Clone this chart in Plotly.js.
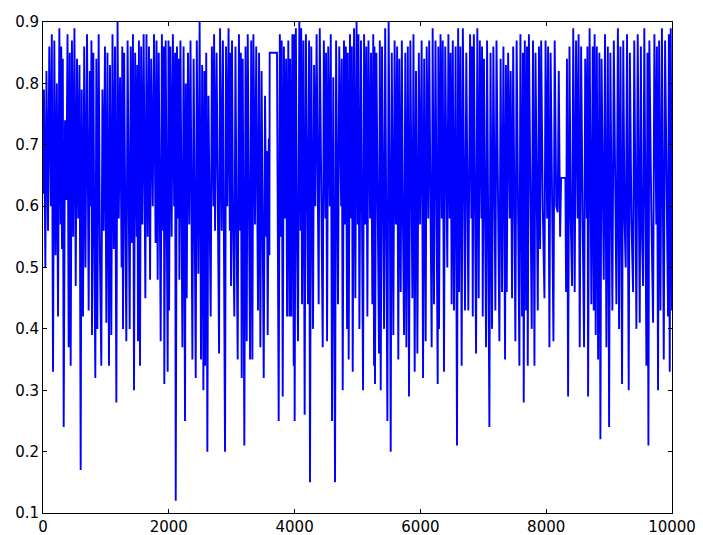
<!DOCTYPE html>
<html>
<head>
<meta charset="utf-8">
<script src="https://cdn.plot.ly/plotly-3.0.1.min.js"></script>
<style>
  html, body { margin: 0; padding: 0; background: #fff; }
  #chart { width: 703px; height: 535px; }
</style>
</head>
<body>
<div id="chart"></div>
<script>
// values, peak / trough pairs
var steps = [
  0, 15, 37, 55, 80, 100, 125, 140, 159, 180, 200, 220, 239, 260, 280, 290, 302, 315, 329, 350,
  370, 390, 408, 425, 440, 460, 480, 500, 520, 540, 560, 580, 599, 615, 636, 655, 675, 700, 726, 745,
  760, 770, 779, 800, 815, 832, 848, 864, 885, 905, 927, 945, 965, 985, 1007, 1025, 1049, 1065, 1086, 1105,
  1125, 1145, 1166, 1185, 1205, 1225, 1250, 1260, 1272, 1290, 1310, 1325, 1345, 1360, 1378, 1395, 1415, 1430, 1447, 1465,
  1490, 1500, 1510, 1525, 1542, 1560, 1580, 1600, 1627,
  1645, 1665, 1685, 1702, 1720, 1745, 1765, 1790, 1805, 1823, 1840, 1871, 1890, 1910, 1920, 1929, 1950, 1965, 1982, 1995,
  2004, 2025, 2045, 2065, 2085, 2100, 2110, 2130, 2150, 2160, 2168, 2185, 2200, 2216, 2235, 2258, 2270, 2285, 2305, 2325,
  2345, 2360, 2375, 2395, 2410, 2428, 2445, 2470, 2490, 2512, 2530, 2550, 2565, 2576, 2595, 2613, 2630, 2650, 2666, 2685,
  2710, 2720, 2735, 2760, 2775, 2799, 2815, 2830, 2841, 2860, 2875, 2894, 2910, 2930, 2950, 2970, 2980, 2989, 3005, 3020,
  3042, 3060, 3075, 3095, 3115, 3135, 3145, 3159, 3175, 3190, 3201, 3220, 3239, 3255, 3275, 3292, 3310, 3329,
  3345, 3370, 3390, 3418, 3435, 3456, 3475, 3490, 3509, 3530, 3550, 3560, 3572, 3590, 3599, 3604, 3720, 3747, 3765, 3785,
  3795, 3811, 3830, 3850, 3865, 3880, 3900, 3917, 3930, 3948, 3965, 3986, 3993, 4001, 4020, 4035, 4054, 4075, 4095, 4105,
  4118, 4140, 4160, 4180, 4195, 4213, 4230, 4245, 4265, 4293, 4310, 4330, 4350, 4365, 4383, 4400, 4425, 4447, 4465, 4490,
  4500, 4516, 4535, 4560, 4575, 4595, 4615, 4630, 4643, 4660, 4675, 4690, 4710, 4740, 4750, 4765, 4785, 4805, 4815, 4834,
  4845, 4860, 4880, 4900, 4910, 4924, 4945, 4966, 4985, 5005, 5015, 5030, 5055, 5070, 5088,
  5105, 5125, 5140, 5157, 5175, 5200, 5215, 5236, 5250, 5263, 5270, 5278, 5300, 5320, 5342, 5355, 5369, 5390, 5405, 5422,
  5440, 5460, 5475, 5495, 5515, 5528, 5545, 5570, 5590, 5610, 5630, 5649, 5665, 5687, 5705, 5720, 5740, 5760, 5777, 5800,
  5819, 5840, 5855, 5872, 5890, 5909, 5930, 5952, 5975, 5995, 6020, 6042, 6060, 6084, 6100, 6125, 6140, 6160, 6179, 6195,
  6216, 6240, 6260, 6275, 6285, 6296, 6320, 6340, 6355, 6375, 6395, 6428, 6445, 6465, 6480, 6497, 6515, 6534, 6560, 6582,
  6600, 6614, 6635, 6656, 6675, 6690, 6709, 6730, 6762,
  6790, 6810, 6820, 6832, 6850, 6870, 6885, 6905, 6927, 6945, 6970, 6980, 6991, 7010, 7030, 7044, 7060, 7080, 7097, 7115,
  7139, 7160, 7180, 7192, 7210, 7235, 7256, 7275, 7298, 7320, 7346, 7360, 7373, 7395, 7420, 7435, 7457, 7475, 7495, 7510,
  7530, 7555, 7574, 7590, 7616, 7630, 7643, 7660, 7680, 7695, 7707, 7725, 7750, 7770, 7790, 7813, 7830, 7850, 7866, 7885,
  7903, 7920, 7945, 7972, 7990, 8015, 8030, 8051, 8070, 8095, 8115, 8135, 8160, 8183, 8200, 8221, 8237, 8305, 8316, 8330,
  8348, 8370, 8390, 8411, 8430, 8453,
  8475, 8500, 8515, 8533, 8555, 8580, 8602, 8620, 8645, 8655, 8666, 8690, 8718, 8740, 8756, 8770, 8787, 8805, 8825, 8845,
  8862, 8880, 8900, 8915, 8935, 8957, 8980, 9000, 9020, 9035, 9052, 9075, 9095, 9116, 9140, 9158, 9180, 9206, 9225, 9245,
  9264, 9285, 9312, 9330, 9355, 9381, 9400, 9415, 9434, 9455, 9487, 9505, 9520, 9540, 9560, 9593, 9610, 9625, 9640, 9670,
  9699, 9720, 9750, 9760, 9778, 9795, 9816, 9840, 9869, 9890, 9915, 9937, 9950, 9964, 9980, 10000
];

var values = [
  0.62, 0.79, 0.50, 0.82, 0.56, 0.86, 0.60, 0.88, 0.33, 0.87, 0.52, 0.80, 0.42, 0.89, 0.57, 0.86, 0.53, 0.84, 0.24, 0.74,
  0.61, 0.88, 0.37, 0.85, 0.34, 0.87, 0.55, 0.89, 0.47, 0.84, 0.58, 0.83, 0.17, 0.79, 0.42, 0.86, 0.50, 0.88, 0.43, 0.82,
  0.60, 0.87, 0.39, 0.85, 0.55, 0.32, 0.84, 0.40, 0.88, 0.52, 0.34, 0.79, 0.56, 0.86, 0.41, 0.85, 0.34, 0.83, 0.39, 0.88,
  0.53, 0.86, 0.28, 0.90, 0.58, 0.81, 0.50, 0.86, 0.40, 0.85, 0.56, 0.38, 0.87, 0.60, 0.40, 0.86, 0.54, 0.88, 0.30, 0.85,
  0.55, 0.83, 0.38, 0.87, 0.34, 0.86, 0.57, 0.88, 0.45,
  0.88, 0.55, 0.86, 0.48, 0.84, 0.60, 0.88, 0.54, 0.87, 0.48, 0.85, 0.38, 0.88, 0.56, 0.86, 0.31, 0.87, 0.58, 0.33, 0.87,
  0.43, 0.86, 0.55, 0.88, 0.60, 0.85, 0.12, 0.86, 0.58, 0.84, 0.48, 0.87, 0.56, 0.37, 0.86, 0.25, 0.80, 0.45, 0.85, 0.57,
  0.87, 0.60, 0.35, 0.84, 0.55, 0.32, 0.87, 0.49, 0.90, 0.35, 0.83, 0.30, 0.82, 0.34, 0.85, 0.20, 0.78, 0.58, 0.42, 0.86,
  0.60, 0.88, 0.56, 0.85, 0.62, 0.36, 0.89, 0.60, 0.56, 0.87, 0.58, 0.20, 0.86, 0.60, 0.89, 0.56, 0.85, 0.47, 0.87, 0.58,
  0.42, 0.86, 0.60, 0.35, 0.88, 0.56, 0.85, 0.32, 0.84, 0.58, 0.21, 0.86, 0.38, 0.88, 0.55, 0.35, 0.87, 0.35,
  0.88, 0.57, 0.86, 0.43, 0.85, 0.37, 0.82, 0.52, 0.32, 0.78, 0.55, 0.69, 0.39, 0.71, 0.52, 0.85, 0.85, 0.25, 0.88, 0.55,
  0.87, 0.29, 0.86, 0.58, 0.84, 0.42, 0.87, 0.42, 0.84, 0.42, 0.88, 0.34, 0.88, 0.25, 0.89, 0.58, 0.38, 0.90, 0.56, 0.89,
  0.44, 0.87, 0.26, 0.88, 0.58, 0.44, 0.87, 0.15, 0.86, 0.40, 0.83, 0.60, 0.88, 0.57, 0.44, 0.89, 0.55, 0.37, 0.87, 0.58,
  0.85, 0.38, 0.86, 0.60, 0.88, 0.25, 0.81, 0.55, 0.15, 0.87, 0.58, 0.44, 0.86, 0.60, 0.84, 0.30, 0.87, 0.57, 0.86, 0.40,
  0.85, 0.35, 0.88, 0.58, 0.86, 0.33, 0.89, 0.45, 0.90, 0.57, 0.88, 0.40, 0.87, 0.56, 0.30,
  0.88, 0.57, 0.86, 0.42, 0.87, 0.58, 0.85, 0.44, 0.88, 0.34, 0.86, 0.31, 0.85, 0.58, 0.36, 0.87, 0.30, 0.86, 0.60, 0.40,
  0.89, 0.57, 0.25, 0.90, 0.60, 0.20, 0.85, 0.39, 0.87, 0.57, 0.86, 0.35, 0.84, 0.46, 0.87, 0.60, 0.39, 0.85, 0.37, 0.86,
  0.29, 0.87, 0.58, 0.45, 0.88, 0.33, 0.82, 0.36, 0.85, 0.57, 0.87, 0.32, 0.84, 0.38, 0.86, 0.58, 0.87, 0.55, 0.37, 0.89,
  0.44, 0.87, 0.58, 0.31, 0.86, 0.40, 0.88, 0.58, 0.87, 0.33, 0.86, 0.50, 0.88, 0.58, 0.85, 0.44, 0.87, 0.43, 0.86, 0.21,
  0.89, 0.46, 0.86, 0.34, 0.89, 0.60, 0.43, 0.85, 0.43,
  0.88, 0.58, 0.86, 0.42, 0.88, 0.56, 0.36, 0.89, 0.45, 0.87, 0.58, 0.86, 0.42, 0.84, 0.57, 0.37, 0.87, 0.55, 0.24, 0.85,
  0.40, 0.86, 0.58, 0.43, 0.87, 0.55, 0.38, 0.84, 0.46, 0.86, 0.35, 0.83, 0.46, 0.85, 0.58, 0.82, 0.45, 0.86, 0.58, 0.38,
  0.87, 0.56, 0.34, 0.88, 0.42, 0.85, 0.28, 0.87, 0.43, 0.86, 0.34, 0.88, 0.58, 0.40, 0.87, 0.34, 0.85, 0.60, 0.43, 0.86,
  0.53, 0.87, 0.60, 0.45, 0.87, 0.58, 0.86, 0.37, 0.85, 0.60, 0.38, 0.87, 0.60, 0.59, 0.82, 0.55, 0.646, 0.646, 0.46, 0.84,
  0.29, 0.86, 0.58, 0.47, 0.89, 0.46,
  0.87, 0.58, 0.88, 0.37, 0.86, 0.57, 0.37, 0.84, 0.58, 0.86, 0.29, 0.89, 0.44, 0.86, 0.43, 0.88, 0.39, 0.86, 0.35, 0.85,
  0.22, 0.84, 0.58, 0.48, 0.88, 0.37, 0.86, 0.24, 0.85, 0.58, 0.43, 0.87, 0.58, 0.44, 0.89, 0.40, 0.86, 0.31, 0.87, 0.58,
  0.50, 0.88, 0.30, 0.85, 0.58, 0.46, 0.87, 0.58, 0.40, 0.88, 0.41, 0.86, 0.57, 0.47, 0.89, 0.34, 0.85, 0.21, 0.87, 0.60,
  0.41, 0.88, 0.57, 0.86, 0.30, 0.87, 0.43, 0.89, 0.35, 0.87, 0.58, 0.42, 0.88, 0.33, 0.89, 0.43
];

var yTicks = [0.1, 0.2, 0.3, 0.4, 0.5, 0.6, 0.7, 0.8, 0.9];
var yTickText = ['0.1', '0.2', '0.3', '0.4', '0.5', '0.6', '0.7', '0.8', '0.9'];
var xTicks = [0, 2000, 4000, 6000, 8000, 10000];
var xTickText = ['0', '2000', '4000', '6000', '8000', '10000'];

var trace = {
    x: steps,
    y: values,
    mode: 'lines',
    line: {color: '#0000ff', width: 1.9},
    hoverinfo: 'skip'
};

var axisStyle = {
    showgrid: false,
    zeroline: false,
    showline: true,
    linecolor: '#000',
    linewidth: 1,
    mirror: 'ticks',
    ticks: 'inside',
    ticklen: 4,
    tickwidth: 1,
    tickcolor: '#000',
    tickfont: {family: 'DejaVu Sans', size: 15, color: '#000'}
};

var layout = {
    width: 703,
    height: 535,
    margin: {l: 43, r: 31, t: 22, b: 22},
    paper_bgcolor: '#fff',
    plot_bgcolor: '#fff',
    showlegend: false,
    xaxis: Object.assign({}, axisStyle, {
        range: [0, 10000],
        tickvals: xTicks,
        ticktext: xTickText
    }),
    yaxis: Object.assign({}, axisStyle, {
        range: [0.1, 0.9],
        tickvals: yTicks,
        ticktext: yTickText
    })
};

Plotly.newPlot('chart', [trace], layout, {staticPlot: true});
</script>
</body>
</html>
